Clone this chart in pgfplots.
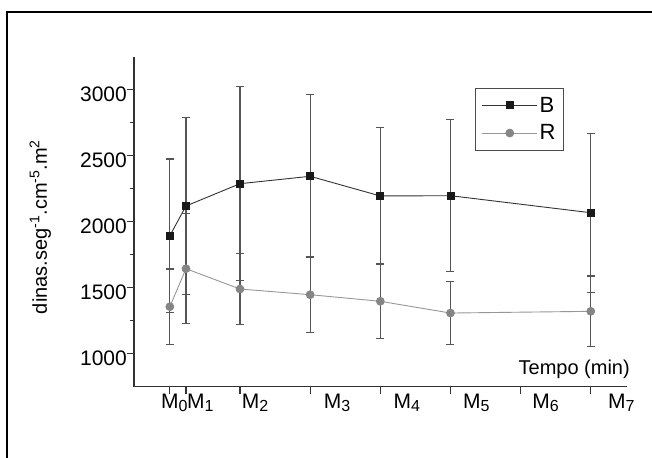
\documentclass[border=0pt]{standalone}
\usepackage{fontspec}
\setmainfont{Liberation Sans}
\usepackage{pgfplots}
\pgfplotsset{compat=1.18}
\definecolor{axgray}{HTML}{333333}
\definecolor{errgray}{HTML}{555555}
\definecolor{rgray}{HTML}{858585}

% subscript for the M labels
\newcommand{\sub}[1]{\raisebox{-3.5bp}{\fontsize{16bp}{16bp}\selectfont #1}}

% x: minutes (M0=0, M1~1.15, M2=5 ... M7=30), y: mean, e: sd
\pgfplotstableread{
x     y     e
0     1891  581
1.15  2116  672
5     2285  735
10    2341  618
15    2192  517
20    2194  576
30    2065  602
}\dataB
\pgfplotstableread{
x     y     e
0     1353  285
1.15  1641  418
5     1487  267
10    1444  288
15    1394  283
20    1305  240
30    1318  268
}\dataR

\begin{document}
\begin{tikzpicture}
\useasboundingbox (-134bp,-71.3bp) rectangle (518bp,386.7bp);
\draw[line width=2.4bp] (-127bp,-120bp) -- (-127bp,374.7bp) -- (600bp,374.7bp);
\begin{axis}[
    at={(0,0)}, anchor=south west,
    scale only axis,
    width=492.7bp, height=330bp,
    xmin=-2.555, xmax=32.56,
    ymin=747, ymax=3247,
    axis x line*=bottom, axis y line*=left,
    axis line style={axgray, line width=1.2bp},
    tick align=outside,
    major tick length=7bp, minor tick length=3.5bp,
    every tick/.style={axgray, line width=1.1bp},
    xtick={0,1.15,5,10,15,20,25,30},
    xticklabels={\hspace{-9bp}M\sub{0},
                 \hspace{1bp}M\sub{1},
                 \hspace{1.7bp}M\sub{2},
                 \hspace{13.5bp}M\sub{3},
                 \hspace{13bp}M\sub{4},
                 \hspace{12.4bp}M\sub{5},
                 \hspace{11.5bp}M\sub{6},
                 \hspace{17.2bp}M\sub{7}},
    xticklabel style={anchor=north west, inner sep=0pt,
        font=\fontsize{21bp}{25bp}\selectfont},
    ytick={1000,1500,...,3000},
    minor y tick num=1,
    yticklabel style={anchor=east, inner sep=0pt, yshift=-5bp,
        font=\fontsize{21bp}{25bp}\selectfont},
    /pgf/number format/assume math mode=true,
    /pgf/number format/1000 sep={},
    xlabel={Tempo (min)},
    xlabel style={at={(rel axis cs:1,0)}, anchor=base east, inner sep=0pt,
        xshift=3.3bp, yshift=12.4bp, font=\fontsize{20bp}{24bp}\selectfont},
    ylabel={dinas.seg\textsuperscript{-1}.cm\textsuperscript{-5}.m\textsuperscript{2}},
    ylabel style={at={(axis description cs:-0.177,0.484)}, anchor=base,
        rotate=0, inner sep=0pt, font=\fontsize{20bp}{24bp}\selectfont},
    legend style={at={(rel axis cs:0.693,0.906)}, anchor=north west,
        draw=black!70, line width=0.8bp, inner xsep=6bp, inner ysep=7bp,
        row sep=7bp, font=\fontsize{22bp}{26bp}\selectfont},
    legend cell align=left,
    legend image code/.code={
        \draw[mark repeat=2, mark phase=2]
        plot coordinates {(0bp,0bp) (27.5bp,0bp) (55bp,0bp)};
    },
]
\addplot[axgray, line width=0.9bp, mark=square*, mark size=3.5bp,
    mark options={fill=black!90, draw=black!90},
    error bars/.cd, y dir=both, y explicit,
    error bar style={errgray, line width=1.2bp},
    error mark options={rotate=90, errgray, mark size=4bp, line width=1.2bp}]
    table[x=x, y=y, y error=e] {\dataB};
\addlegendentry{B}
\addplot[rgray!85, line width=0.9bp, mark=*, mark size=3.9bp,
    mark options={fill=rgray, draw=rgray},
    error bars/.cd, y dir=both, y explicit,
    error bar style={errgray, line width=1.2bp},
    error mark options={rotate=90, errgray, mark size=4bp, line width=1.2bp}]
    table[x=x, y=y, y error=e] {\dataR};
\addlegendentry{R}
\end{axis}
\end{tikzpicture}
\end{document}
